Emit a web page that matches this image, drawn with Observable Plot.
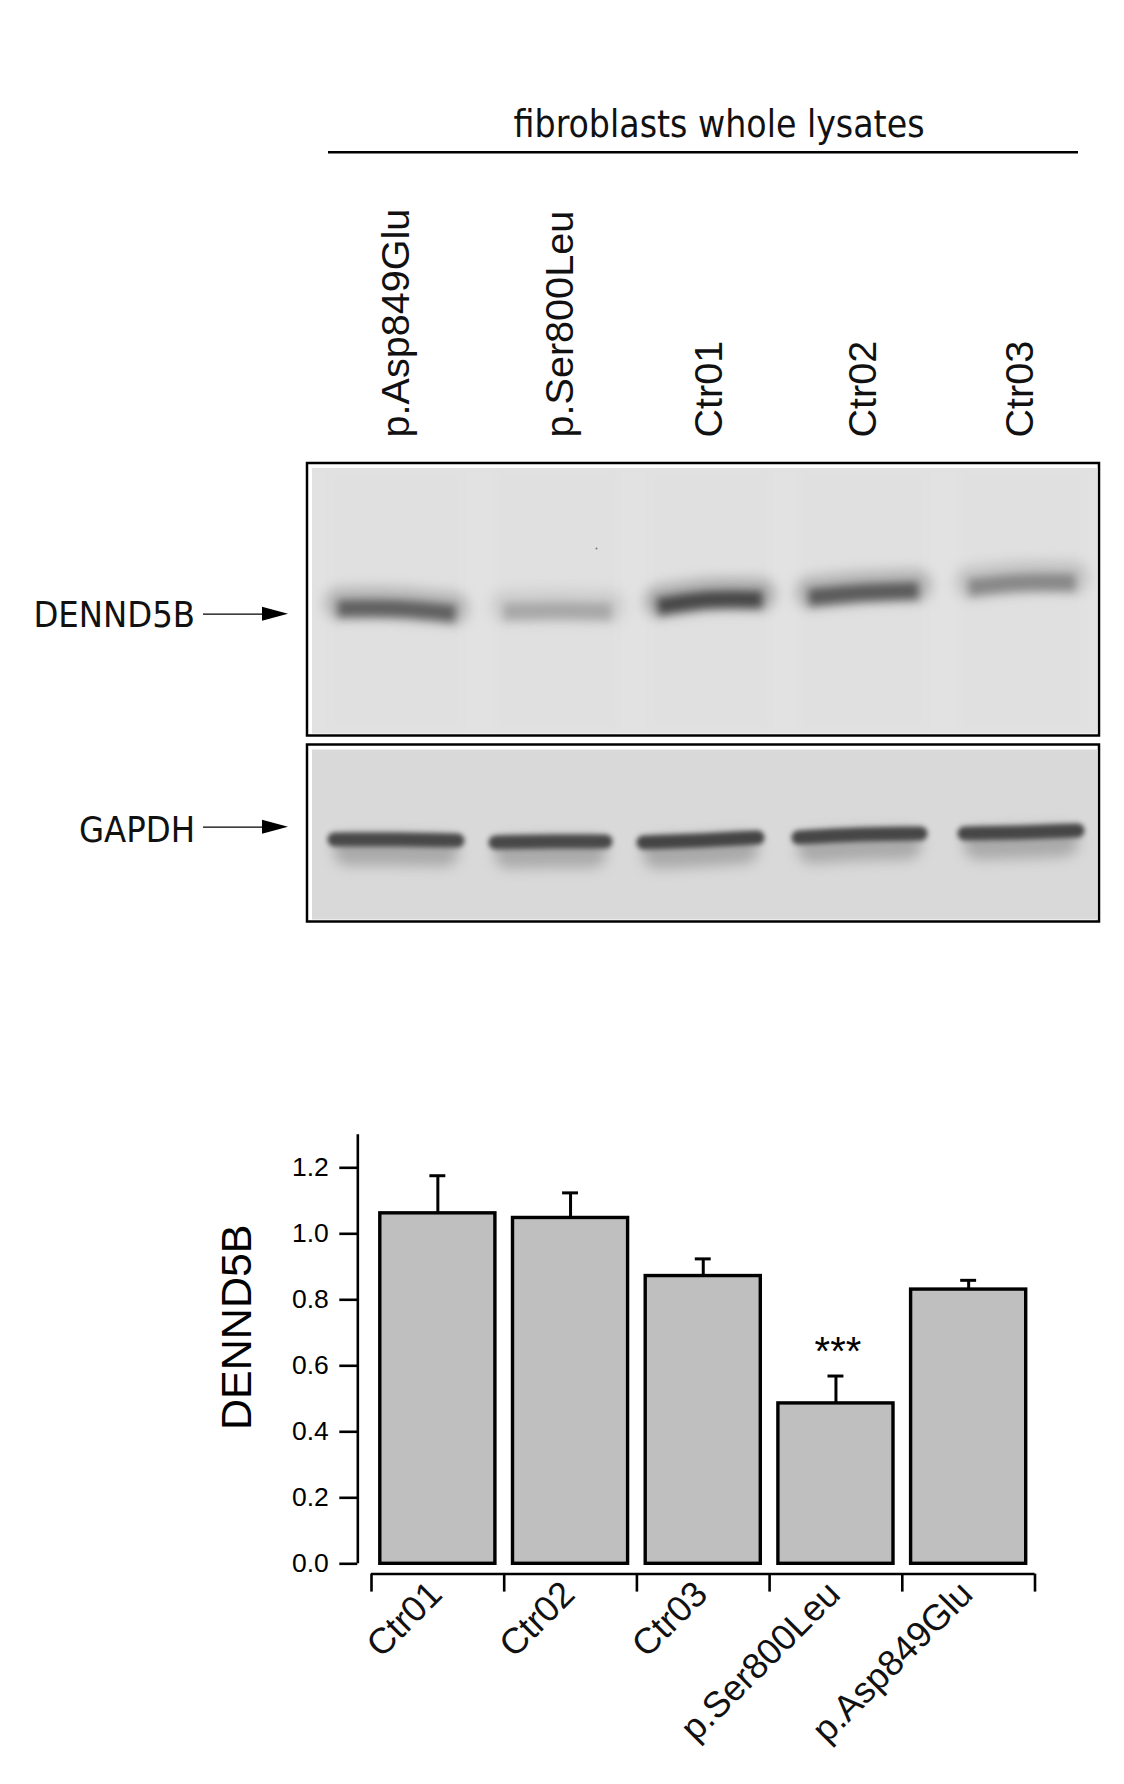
<!DOCTYPE html>
<html><head><meta charset="utf-8">
<script src="https://cdn.jsdelivr.net/npm/d3@7"></script>
<script src="https://cdn.jsdelivr.net/npm/@observablehq/plot@0.6"></script>
<style>html,body{margin:0;background:#fff}svg{display:block}</style></head>
<body><div id="c"></div>
<script>
// bar chart
const categories=["Ctr01","Ctr02","Ctr03","p.Ser800Leu","p.Asp849Glu"];
const means=[1.062,1.048,0.872,0.486,0.831];
const errorTops=[1.176,1.124,0.924,0.569,0.859];
const yTicks=[0,0.2,0.4,0.6,0.8,1.0,1.2];
// blot annotations
const blotTitle="fibroblasts whole lysates";
const laneNames=["p.Asp849Glu","p.Ser800Leu","Ctr01","Ctr02","Ctr03"];
const laneLabelX=[408,572,721,875,1032];
// blot bands: x position and y position
const denndBands=[
 {x:[337,396,455],y:[608,608,613],tone:"#606060"},
 {x:[503,557,611],y:[611,610,611],tone:"#a8a8a8"},
 {x:[657,710,762],y:[606,599,599],tone:"#474747"},
 {x:[808,863,918],y:[597,592,590],tone:"#5a5a5a"},
 {x:[968,1020,1075],y:[587,582,582],tone:"#888888"}];
const gapdhBands=[
 {x:[334,395,457],y:[839,839,840],tone:"#484848"},
 {x:[495,550,605],y:[842,841,841],tone:"#484848"},
 {x:[643,700,757],y:[842,840,837],tone:"#444444"},
 {x:[798,860,920],y:[837,834,833],tone:"#464646"},
 {x:[964,1020,1077],y:[833,832,830],tone:"#464646"}];
const panels=[{x1:307,x2:1099,y1:463,y2:735.5,fill:"#e2e2e2"},{x1:307,x2:1099,y1:744.5,y2:921.5,fill:"#d9d9d9"}];
const laneBounds=[[330,462],[496,618],[650,770],[800,926],[960,1083]];
const speck=[{x:596,y:548}];
const rowLabels=[{t:"DENND5B",y:614.5,arrow:613.7},{t:"GAPDH",y:829.5,arrow:826.7}];
const sideFont="'DejaVu Sans Condensed','DejaVu Sans',sans-serif";
const helv="'Liberation Sans',Arial,sans-serif";

function bandMarks(bands,o){
  return bands.flatMap(b=>{
    const pts=b.x.map((x,i)=>({x,y:b.y[i]}));
    const n=pts.length-1;
    const hazePts=pts.map((p,i)=>({x:p.x+(i===0?o.hazeInset:i===n?-o.hazeInset:0),y:p.y}));
    return [
      Plot.line(hazePts,{x:"x",y:"y",dy:o.hazeDy,stroke:b.tone,strokeWidth:o.hazeW,strokeOpacity:o.hazeOp,curve:"natural",imageFilter:`blur(${o.hazeBlur}px)`}),
      Plot.line(pts,{x:"x",y:"y",stroke:b.tone,strokeWidth:o.coreW,strokeLinecap:o.cap,curve:"natural",imageFilter:`blur(${o.coreBlur}px)`})
    ];
  });
}
const arrowHead=y=>[{x:262,a:y-7,b:y+7},{x:288,a:y,b:y}];

const blotPlot=Plot.plot({
  width:1124,height:1000,margin:0,
  x:{domain:[0,1124],range:[0,1124],axis:null},
  y:{domain:[0,1000],range:[0,1000],axis:null},
  marks:[
    Plot.text([blotTitle],{x:718.5,y:125,text:d=>d,fontSize:37,fontFamily:sideFont,fill:"#111"}),
    Plot.ruleY([151.7],{x1:328,x2:1078,stroke:"#000",strokeWidth:2.4}),
    Plot.text(laneNames,{x:(d,i)=>laneLabelX[i],y:437,text:d=>d,rotate:-90,textAnchor:"start",lineAnchor:"bottom",fontSize:39.6,fontFamily:helv,fill:"#111"}),
    Plot.rect(panels,{x1:"x1",x2:"x2",y1:"y1",y2:"y2",fill:"#fff",stroke:"#000",strokeWidth:2.5}),
    Plot.rect(panels,{x1:d=>d.x1+5,x2:d=>d.x2-1.5,y1:d=>d.y1+5,y2:d=>d.y2-2,fill:"fill"}),
    Plot.rect(laneBounds,{x1:d=>d[0],x2:d=>d[1],y1:470,y2:730,fill:"#000",fillOpacity:0.006,imageFilter:"blur(6px)"}),
    Plot.dot(speck,{x:"x",y:"y",r:1,fill:"#777"}),
    ...bandMarks(denndBands,{hazeW:34,hazeOp:0.3,hazeBlur:6,hazeDy:-5,hazeInset:3,coreW:17,coreBlur:4,cap:"butt"}),
    ...bandMarks(gapdhBands,{hazeW:30,hazeOp:0.32,hazeBlur:6.5,hazeDy:11,hazeInset:14,coreW:14,coreBlur:2.5,cap:"round"}),
    Plot.text(rowLabels,{x:194.5,y:"y",text:"t",textAnchor:"end",fontSize:36,fontFamily:sideFont,fill:"#111"}),
    Plot.ruleY(rowLabels,{y:"arrow",x1:203,x2:264,stroke:"#000",strokeWidth:1.3}),
    ...rowLabels.map(r=>Plot.areaY(arrowHead(r.arrow),{x:"x",y1:"a",y2:"b",fill:"#000"}))
  ]
});

const idx=categories.map((c,i)=>i);
const barPlot=Plot.plot({
  width:1124,height:784,marginLeft:357.3,marginRight:0,marginTop:0,marginBottom:210.4,
  x:{domain:[0,5],range:[371,1034.5],axis:null},
  y:{domain:[0,1.3],range:[563.3,134.3],axis:null},
  marks:[
    Plot.ruleX(idx,{x:i=>i+0.5,y1:i=>means[i],y2:i=>errorTops[i],stroke:"#000",strokeWidth:3}),
    Plot.ruleY(idx,{y:i=>errorTops[i],x1:i=>i+0.5-0.06,x2:i=>i+0.5+0.06,stroke:"#000",strokeWidth:3}),
    Plot.rectY(idx,{x1:i=>i,x2:i=>i+1,y:i=>means[i],insetLeft:8.8,insetRight:8.8,fill:"#bfbfbf",stroke:"#000",strokeWidth:3.4}),
    Plot.ruleX([-0.103],{y1:0,y2:1.3,stroke:"#000",strokeWidth:2.6}),
    Plot.ruleY([-0.031],{x1:0,x2:5,stroke:"#000",strokeWidth:2.6}),
    Plot.axisY({ticks:yTicks,tickSize:18,tickPadding:11,tickFormat:d3.format(".1f"),label:null,fontSize:26.5,fontFamily:helv,strokeWidth:2.6,color:"#000"}),
    Plot.axisX({ticks:[0,1,2,3,4,5],tickSize:18,tickFormat:()=>"",label:null,strokeWidth:2.6,color:"#000"}),
    Plot.axisX({ticks:idx.map(i=>i+0.5),tickSize:0,tickPadding:14,tickRotate:-45,dx:-2,tickFormat:d=>categories[d-0.5],label:null,fontSize:36.2,fontFamily:helv,color:"#111"}),
    Plot.text(["***"],{x:3.515,y:0.641,text:d=>d,fontSize:40,fontFamily:helv,fill:"#000"}),
    Plot.text(["DENND5B"],{x:-1.012,y:0.717,text:d=>d,rotate:-90,fontSize:43,fontFamily:helv,fill:"#000"})
  ]
});
document.getElementById("c").append(blotPlot,barPlot);
</script></body></html>
